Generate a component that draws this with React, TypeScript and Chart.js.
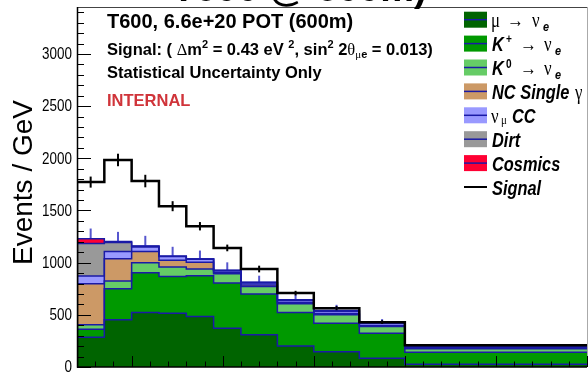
import React, { useEffect, useRef } from 'react';
import { Chart, registerables } from 'chart.js';

Chart.register(...registerables);

// ---- data (Events / GeV per bin) ----
const binEdges = [0.2, 0.35, 0.5, 0.65, 0.8, 0.95, 1.1, 1.3, 1.5, 1.75, 2.0, 3.0];
const muToNue = [286, 452, 522, 516, 484, 372, 308, 202, 147, 83, 26];
const kPlusToNue = [76, 298, 382, 352, 391, 433, 391, 320, 273, 241, 115];
const kZeroToNue = [43, 74, 96, 91, 64, 89, 73, 84, 80, 64, 35];
const ncSingleGamma = [393, 214, 106, 63, 64, 11, 13, 12, 10, 7, 4];
const numuCC = [74, 68, 45, 36, 29, 17, 20, 20, 23, 23, 9];
const dirt = [311, 86, 7, 3, 3, 3, 4, 5, 6, 6, 5];
const cosmics = [47, 10, 2, 1, 1, 1, 2, 1, 2, 2, 1];
const signal = [542, 782, 622, 479, 313, 215, 128, 64, 23, 4, 13];
const bkgStatErr = [97, 93, 97, 90, 80, 77, 64, 48, 55, 33, 12];
const totalStatErr = [53, 60, 60, 48, 40, 32, 32, 22, 20, 18, 10];
const yTickValues = [0, 500, 1000, 1500, 2000, 2500, 3000];
const xTickValues = [0.5, 1, 1.5, 2, 2.5, 3];
const xTickLabels = ['0.5', '1', '1.5', '2', '2.5', '3'];

const componentNames = ['μ → νe', 'K+ → νe', 'K0 → νe', 'NC Single γ', 'νμ CC', 'Dirt', 'Cosmics'];
const componentValues = [muToNue, kPlusToNue, kZeroToNue, ncSingleGamma, numuCC, dirt, cosmics];
const componentColors = ['#006400', '#009900', '#66cc66', '#cc9966', '#9999ff', '#999999', '#ff0033'];
const outlineColor = '#1a1aa6';

// cumulative stack tops
const cumulative: number[][] = [];
componentValues.forEach((vals, k) => {
  cumulative.push(vals.map((v, i) => v + (k > 0 ? cumulative[k - 1][i] : 0)));
});
const bkgTotal = cumulative[cumulative.length - 1];
const grandTotal = bkgTotal.map((v, i) => v + signal[i]);

function stepPoints(vals: number[]) {
  const pts = vals.map((v, i) => ({ x: binEdges[i], y: v }));
  pts.push({ x: binEdges[binEdges.length - 1], y: vals[vals.length - 1] });
  return pts;
}

const SANS = '"Liberation Sans", Arial, Helvetica, sans-serif';
const SERIF = '"Liberation Serif", "Times New Roman", serif';

function drawText(ctx: CanvasRenderingContext2D, s: string, x: number, y: number, font: string, color = '#000', sx = 1, align: CanvasTextAlign = 'left') {
  ctx.save();
  ctx.translate(x, y);
  ctx.scale(sx, 1);
  ctx.font = font;
  ctx.fillStyle = color;
  ctx.textAlign = align;
  ctx.textBaseline = 'alphabetic';
  ctx.fillText(s, 0, 0);
  ctx.restore();
}

function drawRuns(ctx: CanvasRenderingContext2D, x: number, y: number, runs: { t: string; f: string; dy?: number }[], color = '#000') {
  ctx.save();
  ctx.fillStyle = color;
  ctx.textBaseline = 'alphabetic';
  ctx.textAlign = 'left';
  let cx = x;
  for (const r of runs) {
    ctx.font = r.f;
    ctx.fillText(r.t, cx, y + (r.dy || 0));
    cx += ctx.measureText(r.t).width;
  }
  ctx.restore();
}

const overlayPlugin = {
  id: 'overlay',
  afterDraw(chart: any) {
    const ctx: CanvasRenderingContext2D = chart.ctx;
    const { left, right, top, bottom } = chart.chartArea;
    const xs = chart.scales.x;
    const ys = chart.scales.y;
    ctx.save();

    // background stat error bars (upper half)
    ctx.strokeStyle = 'rgba(30,30,190,0.75)';
    ctx.lineWidth = 2;
    for (let i = 0; i < bkgTotal.length; i++) {
      const cx = xs.getPixelForValue((binEdges[i] + binEdges[i + 1]) / 2);
      ctx.beginPath();
      ctx.moveTo(cx, ys.getPixelForValue(bkgTotal[i]));
      ctx.lineTo(cx, ys.getPixelForValue(bkgTotal[i] + bkgStatErr[i]));
      ctx.stroke();
    }
    // total (signal) error bars
    ctx.strokeStyle = '#000';
    ctx.lineWidth = 2;
    for (let i = 0; i < grandTotal.length; i++) {
      const cx = xs.getPixelForValue((binEdges[i] + binEdges[i + 1]) / 2);
      ctx.beginPath();
      ctx.moveTo(cx, ys.getPixelForValue(grandTotal[i] - totalStatErr[i]));
      ctx.lineTo(cx, ys.getPixelForValue(grandTotal[i] + totalStatErr[i]));
      ctx.stroke();
    }

    // frame
    ctx.lineWidth = 1;
    ctx.strokeStyle = '#444';
    ctx.beginPath();
    ctx.moveTo(left, top + 0.5);
    ctx.lineTo(right + 1, top + 0.5);
    ctx.stroke();
    ctx.strokeStyle = '#aaa';
    ctx.beginPath();
    ctx.moveTo(right + 0.5, top);
    ctx.lineTo(right + 0.5, bottom);
    ctx.stroke();
    ctx.strokeStyle = '#000';
    ctx.lineWidth = 1.5;
    ctx.beginPath();
    ctx.moveTo(left + 0.5, top);
    ctx.lineTo(left + 0.5, bottom);
    ctx.lineTo(right, bottom);
    ctx.stroke();

    // y ticks (inside)
    ctx.lineWidth = 1;
    for (let v = 0; v <= 3400; v += 100) {
      const y = Math.round(ys.getPixelForValue(v)) + 0.5;
      const len = v % 500 === 0 ? 14 : 7;
      ctx.beginPath();
      ctx.moveTo(left, y);
      ctx.lineTo(left + len, y);
      ctx.stroke();
    }
    // x ticks (inside)
    for (let k = 3; k <= 30; k++) {
      const x = Math.round(xs.getPixelForValue(k / 10)) + 0.5;
      const len = k % 5 === 0 ? 11 : 5.5;
      ctx.beginPath();
      ctx.moveTo(x, bottom);
      ctx.lineTo(x, bottom - len);
      ctx.stroke();
    }

    // y tick labels
    for (const v of yTickValues) {
      drawText(ctx, String(v), 72, ys.getPixelForValue(v) + 5.3, `16px ${SANS}`, '#000', 0.84, 'right');
    }
    // x tick labels (cropped by the bottom edge)
    xTickValues.forEach((v, i) => {
      drawText(ctx, xTickLabels[i], xs.getPixelForValue(v), 384, `16px ${SANS}`, '#000', 0.84, 'center');
    });

    // y axis title
    ctx.save();
    ctx.translate(31.5, 265);
    ctx.rotate(-Math.PI / 2);
    ctx.font = `28px ${SANS}`;
    ctx.fillStyle = '#000';
    ctx.textAlign = 'left';
    ctx.fillText('Events / GeV', 0, 0);
    ctx.restore();

    // cropped main title at the very top
    drawText(ctx, 'T600 @ 600m)', 172, 0.5, `bold 38px ${SANS}`);

    // annotation texts
    drawText(ctx, 'T600, 6.6e+20 POT (600m)', 107, 27.8, `bold 20px ${SANS}`);
    const B = `bold 16.5px ${SANS}`;
    const G = `16.5px ${SERIF}`;
    const S = `bold 11px ${SANS}`;
    const GS = `11px ${SERIF}`;
    drawRuns(ctx, 107, 55.3, [
      { t: 'Signal: ( ', f: B },
      { t: 'Δ', f: G },
      { t: 'm', f: B },
      { t: '2', f: S, dy: -7 },
      { t: ' = 0.43 eV ', f: B },
      { t: '2', f: S, dy: -7 },
      { t: ', sin', f: B },
      { t: '2', f: S, dy: -7 },
      { t: ' 2', f: B },
      { t: 'θ', f: G },
      { t: 'μ', f: GS, dy: 3 },
      { t: 'e', f: S, dy: 3 },
      { t: ' = 0.013)', f: B },
    ]);
    drawText(ctx, 'Statistical Uncertainty Only', 107, 78.3, B);
    drawText(ctx, 'INTERNAL', 107, 106, B, '#d0343a');

    // legend
    const BI = `italic bold 19.5px ${SANS}`;
    const SYM = `20px ${SERIF}`;
    const SUB = `italic bold 13px ${SANS}`;
    const SUP = `bold 12px ${SANS}`;
    const SYMS = `13px ${SERIF}`;
    const rows: { t: string; x: number; f: string; dy?: number }[][] = [
      [{ t: 'μ', x: 491, f: SYM }, { t: '→', x: 507, f: SYM }, { t: 'ν', x: 532, f: SYM }, { t: 'e', x: 543, f: SUB, dy: 3.5 }],
      [{ t: 'K', x: 492, f: BI }, { t: '+', x: 506, f: SUP, dy: -8 }, { t: '→', x: 520, f: SYM }, { t: 'ν', x: 544, f: SYM }, { t: 'e', x: 555, f: SUB, dy: 3.5 }],
      [{ t: 'K', x: 492, f: BI }, { t: '0', x: 506, f: SUP, dy: -7.5 }, { t: '→', x: 520, f: SYM }, { t: 'ν', x: 544, f: SYM }, { t: 'e', x: 555, f: SUB, dy: 3.5 }],
      [{ t: 'NC Single', x: 492, f: BI }, { t: 'γ', x: 575, f: SYM }],
      [{ t: 'ν', x: 491, f: SYM }, { t: 'μ', x: 501, f: SYMS, dy: 1.5 }, { t: 'CC', x: 512, f: BI }],
      [{ t: 'Dirt', x: 492, f: BI }],
      [{ t: 'Cosmics', x: 492, f: BI }],
      [{ t: 'Signal', x: 492, f: BI }],
    ];
    rows.forEach((row, i) => {
      const cy = 19.7 + i * 23.9;
      if (i < componentColors.length) {
        ctx.fillStyle = componentColors[i];
        ctx.fillRect(464, cy - 8, 23, 16);
        ctx.strokeStyle = outlineColor;
        ctx.lineWidth = 1.5;
      } else {
        ctx.strokeStyle = '#000';
        ctx.lineWidth = 2;
      }
      ctx.beginPath();
      ctx.moveTo(464, cy);
      ctx.lineTo(487, cy);
      ctx.stroke();
      for (const p of row) {
        drawText(ctx, p.t, p.x, cy + 7.5 + (p.dy || 0), p.f, '#000', 0.84);
      }
    });

    ctx.restore();
  },
};

export default function App() {
  const ref = useRef<HTMLCanvasElement>(null);
  useEffect(() => {
    document.body.style.margin = '0';
    const canvas = ref.current!;
    const datasets: any[] = componentValues.map((_, k) => ({
      label: componentNames[k],
      data: stepPoints(cumulative[k]),
      stepped: 'before',
      fill: k === 0 ? 'origin' : '-1',
      backgroundColor: componentColors[k],
      borderColor: outlineColor,
      borderWidth: 1.5,
      pointRadius: 0,
      tension: 0,
    }));
    datasets.push({
      label: 'Signal',
      data: [{ x: binEdges[0], y: 0 }, ...stepPoints(grandTotal)],
      stepped: 'before',
      fill: false,
      borderColor: '#000',
      borderWidth: 2.5,
      pointRadius: 0,
      tension: 0,
      order: -1,
    });
    const chart = new Chart(canvas, {
      type: 'line',
      data: { datasets },
      options: {
        animation: false,
        responsive: false,
        devicePixelRatio: 1,
        layout: { padding: { top: 7, right: 1, left: 0, bottom: 0 } },
        scales: {
          x: {
            type: 'linear',
            min: 0.2,
            max: 3.0,
            ticks: { display: false },
            grid: { display: false, drawTicks: false },
            border: { display: false },
            afterFit: (s: any) => { s.height = 5; },
          },
          y: {
            type: 'linear',
            min: 0,
            max: 3450,
            ticks: { display: false, stepSize: 500 },
            grid: { display: false, drawTicks: false },
            border: { display: false },
            afterFit: (s: any) => { s.width = 77; },
          },
        },
        plugins: {
          legend: { display: false },
          tooltip: { enabled: false },
          filler: { drawTime: 'beforeDatasetsDraw', propagate: false },
        },
      } as any,
      plugins: [overlayPlugin],
    });
    return () => chart.destroy();
  }, []);
  return (
    <div style={{ width: 588, height: 372, overflow: 'hidden', background: '#fff' }}>
      <canvas ref={ref} width={588} height={372} style={{ display: 'block', width: 588, height: 372 }} />
    </div>
  );
}
